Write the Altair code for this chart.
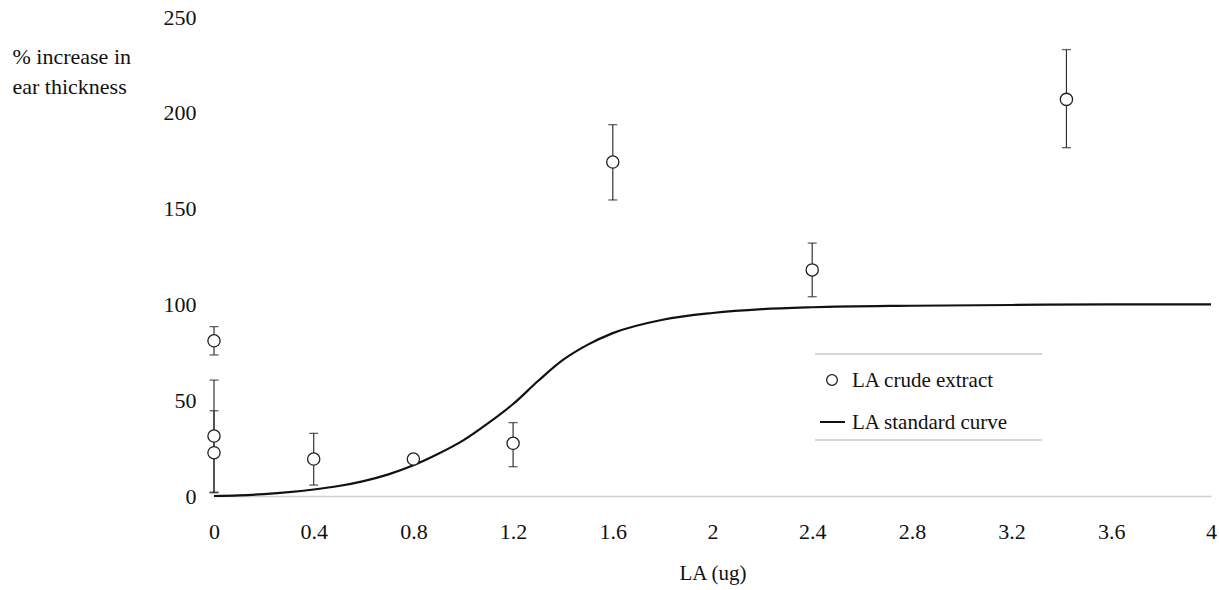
import altair as alt
import pandas as pd

# crude extract measurements
dose = [0, 0, 0, 0.4, 0.8, 1.2, 1.6, 2.4, 3.42]
mean = [81, 31.3, 22.6, 19.3, 19.3, 27.5, 174.3, 118, 207]
err_lo = [73.6, 2, 1.7, 5.7, 19.3, 15.3, 154.5, 104, 181.8]
err_hi = [88.4, 60.5, 44.5, 32.7, 19.3, 38.3, 193.8, 132, 233]

# standard curve
curve_x = [0, 0.1, 0.2, 0.3, 0.4, 0.5, 0.6, 0.7, 0.8, 0.9, 1.0, 1.1, 1.2, 1.3,
           1.4, 1.5, 1.6, 1.8, 2.0, 2.2, 2.4, 2.8, 3.2, 3.6, 4.0]
curve_y = [0, 0.3, 1.0, 2.0, 3.4, 5.2, 7.8, 11.3, 16, 22, 29, 38, 48, 60,
           71, 79, 85, 92, 95.5, 97.5, 98.5, 99.3, 99.7, 100, 100]

x_ticks = [0, 0.4, 0.8, 1.2, 1.6, 2, 2.4, 2.8, 3.2, 3.6, 4]
y_ticks = [0, 50, 100, 150, 200, 250]
legend_labels = ["LA crude extract", "LA standard curve"]

FONT = "Liberation Serif"
W, H = 997, 479

pts = pd.DataFrame({"x": dose, "y": mean, "lo": err_lo, "hi": err_hi})
crv = pd.DataFrame({"x": curve_x, "y": curve_y})

xs = alt.Scale(domain=[0, 4], nice=False)
ys = alt.Scale(domain=[0, 250], nice=False)

x_axis = alt.Axis(values=x_ticks, title="LA (ug)", grid=False, ticks=False,
                  format="~g",
                  domain=True, domainColor="#cfcfcf", domainWidth=1.5,
                  labelPadding=25, labelFontSize=22, labelFont=FONT,
                  labelColor="#111", titleFont=FONT, titleFontSize=21,
                  titleFontWeight="normal", titleColor="#111", titlePadding=20,
                  labelFlush=False)
y_axis = alt.Axis(values=y_ticks, title=["% increase in", "ear thickness"],
                  grid=False, ticks=False, domain=False, labelPadding=18,
                  labelFontSize=22, labelFont=FONT, labelColor="#111",
                  titleFont=FONT, titleFontSize=22, titleFontWeight="normal",
                  titleColor="#111", titleAngle=0, titleAlign="left",
                  titleBaseline="top", titleX=-202, titleY=29, titleLineHeight=30)

base_curve = alt.Chart(crv).mark_line(color="#111", strokeWidth=2.2,
                                      interpolate="monotone").encode(
    x=alt.X("x:Q", scale=xs, axis=x_axis),
    y=alt.Y("y:Q", scale=ys, axis=y_axis),
)

bars = alt.Chart(pts).mark_rule(color="#333", strokeWidth=1.2).encode(
    x=alt.X("x:Q", scale=xs), y=alt.Y("lo:Q", scale=ys), y2="hi:Q")
cap_lo = alt.Chart(pts).mark_tick(color="#222", orient="horizontal", size=9,
                                  thickness=1.3).encode(
    x=alt.X("x:Q", scale=xs), y=alt.Y("lo:Q", scale=ys))
cap_hi = alt.Chart(pts).mark_tick(color="#222", orient="horizontal", size=9,
                                  thickness=1.3).encode(
    x=alt.X("x:Q", scale=xs), y=alt.Y("hi:Q", scale=ys))
dots = alt.Chart(pts).mark_point(shape="circle", size=150, filled=True,
                                 fill="white", stroke="#222", strokeWidth=1.3,
                                 opacity=1).encode(
    x=alt.X("x:Q", scale=xs), y=alt.Y("y:Q", scale=ys))

# legend (drawn as marks inside the plot area)
leg_df = pd.DataFrame({"label": legend_labels})
leg_line_top = alt.Chart(leg_df.head(1)).mark_rule(color="#c8c8c8", strokeWidth=1.5).encode(
    x=alt.value(601), x2=alt.value(828), y=alt.value(337))
leg_line_bot = alt.Chart(leg_df.head(1)).mark_rule(color="#c8c8c8", strokeWidth=1.5).encode(
    x=alt.value(601), x2=alt.value(828), y=alt.value(423))
leg_circle = alt.Chart(leg_df.head(1)).mark_point(shape="circle", size=115, filled=True,
                                                  fill="white", stroke="#222",
                                                  strokeWidth=1.3, opacity=1).encode(
    x=alt.value(618), y=alt.value(363))
leg_stroke = alt.Chart(leg_df.head(1)).mark_rule(color="#111", strokeWidth=2).encode(
    x=alt.value(606), x2=alt.value(631), y=alt.value(405))
leg_text1 = alt.Chart(leg_df.iloc[[0]]).mark_text(align="left", baseline="middle",
                                                  font=FONT, fontSize=21, color="#111").encode(
    x=alt.value(638), y=alt.value(364), text="label:N")
leg_text2 = alt.Chart(leg_df.iloc[[1]]).mark_text(align="left", baseline="middle",
                                                  font=FONT, fontSize=21, color="#111").encode(
    x=alt.value(638), y=alt.value(406), text="label:N")

chart = alt.layer(
    base_curve, bars, cap_lo, cap_hi, dots,
    leg_line_top, leg_line_bot, leg_circle, leg_stroke, leg_text1, leg_text2,
).properties(
    width=W, height=H,
    autosize=alt.AutoSizeParams(type="none"),
    padding={"left": 214, "top": 17, "right": 8, "bottom": 94},
    background="white",
).configure(font=FONT).configure_view(stroke=None)

chart.save("out.html", embed_options={"renderer": "svg", "actions": False})
